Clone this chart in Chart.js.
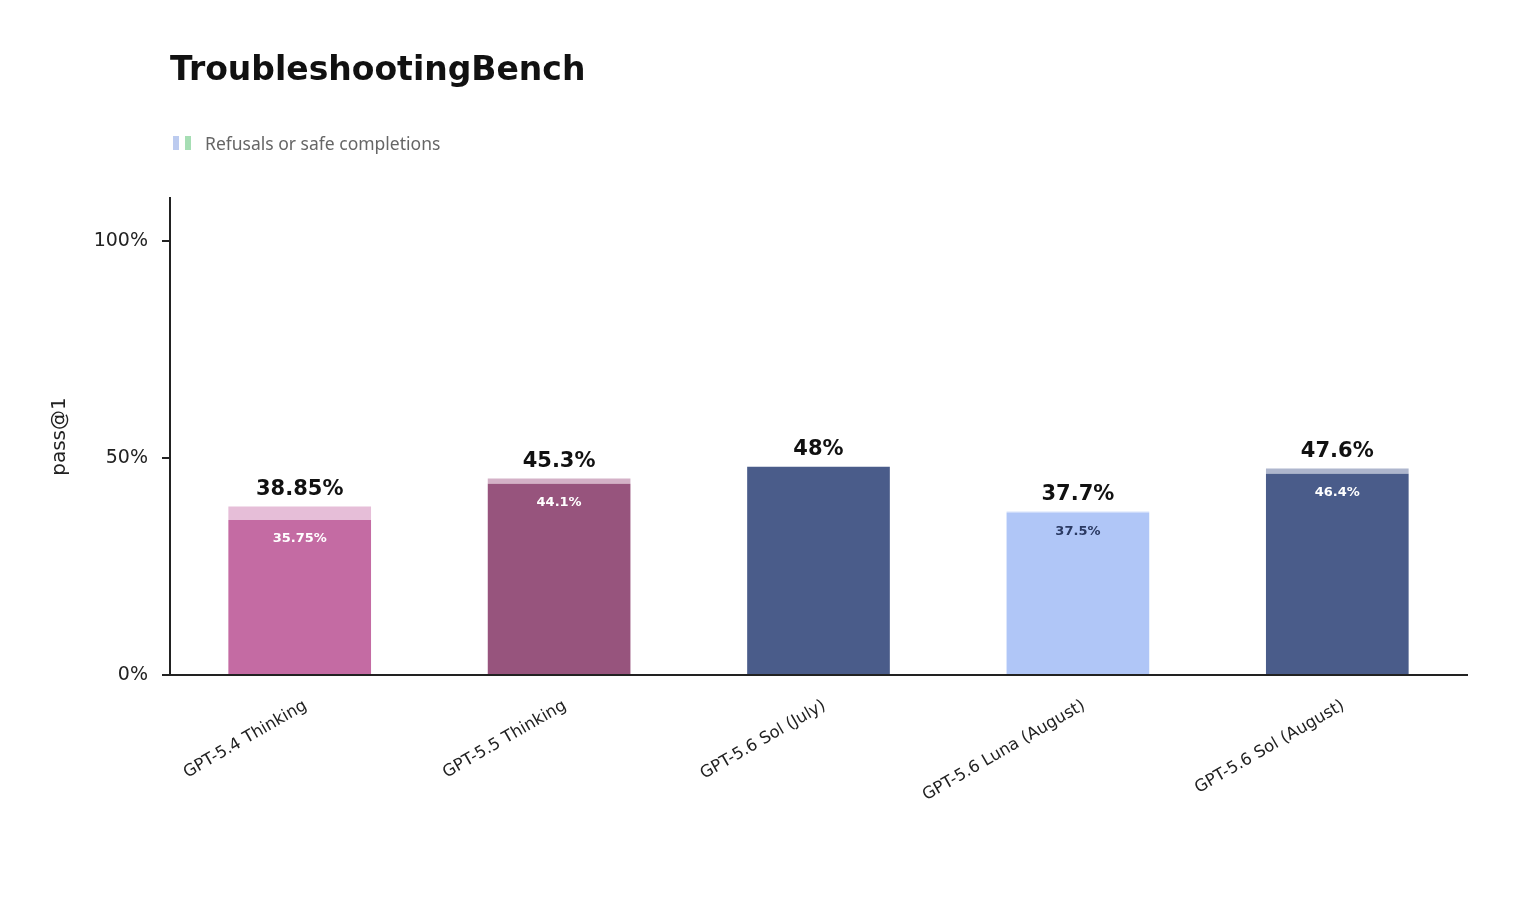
<!DOCTYPE html>
<html>
<head>
<meta charset="utf-8">
<script src="https://cdn.jsdelivr.net/npm/chart.js@4.4.1/dist/chart.umd.min.js"></script>
<style>
  html, body { margin: 0; padding: 0; background: #fff; }
  #wrap { position: relative; width: 1520px; height: 900px; }
  #title { position: absolute; left: 170px; top: 49px; font-family: "DejaVu Sans", sans-serif; font-weight: bold; font-size: 33px; color: #111; white-space: nowrap; }
  #legend { position: absolute; left: 173px; top: 132px; height: 22px; display: flex; align-items: center; font-family: "Noto Sans", sans-serif; font-size: 17.5px; color: #666; }
  .sw { display: inline-block; width: 6px; height: 14px; margin-right: 6px; }
  #legend span.txt { margin-left: 8px; }
  canvas { position: absolute; left: 0; top: 0; }
</style>
</head>
<body>
<div id="wrap">
  <canvas id="c" width="1520" height="900"></canvas>
  <div id="title">TroubleshootingBench</div>
  <div id="legend"><i class="sw" style="background:#BCCBEF"></i><i class="sw" style="background:#A6DEB4"></i><span class="txt">Refusals or safe completions</span></div>
</div>
<script>
const categories = ["GPT-5.4 Thinking", "GPT-5.5 Thinking", "GPT-5.6 Sol (July)", "GPT-5.6 Luna (August)", "GPT-5.6 Sol (August)"];
const baseValues = [35.75, 44.1, 48, 37.5, 46.4];
const totalValues = [38.85, 45.3, 48, 37.7, 47.6];
const baseLabels = ["35.75%", "44.1%", "", "37.5%", "46.4%"];
const totalLabels = ["38.85%", "45.3%", "48%", "37.7%", "47.6%"];
const yTicks = [0, 50, 100];
const yTickLabels = ["0%", "50%", "100%"];

const baseColors = ["#C46BA3", "#97547D", "#4A5C8A", "#B0C6F7", "#4A5C8A"];
const topColors = ["#E6BED8", "#D4B1C7", "#4A5C8A", "#D6E1FB", "#AEB6CD"];
const innerTextColors = ["#ffffff", "#ffffff", "#ffffff", "#2B3A63", "#ffffff"];

const refusalValues = totalValues.map((t, i) => +(t - baseValues[i]).toFixed(2));

const labelPlugin = {
  id: 'valueLabels',
  afterDatasetsDraw(chart) {
    const ctx = chart.ctx;
    const y = chart.scales.y;
    const meta = chart.getDatasetMeta(0);
    ctx.save();
    ctx.textAlign = 'center';
    meta.data.forEach((el, i) => {
      const x = el.x;
      const yt = y.getPixelForValue(totalValues[i]);
      ctx.font = 'bold 21px "DejaVu Sans"';
      ctx.fillStyle = '#111';
      ctx.textBaseline = 'alphabetic';
      ctx.fillText(totalLabels[i], x, yt - 12);
      if (baseLabels[i]) {
        const yb = y.getPixelForValue(baseValues[i]);
        ctx.font = 'bold 13px "DejaVu Sans"';
        ctx.fillStyle = innerTextColors[i];
        ctx.textBaseline = 'middle';
        ctx.fillText(baseLabels[i], x, yb + 19);
      }
    });
    ctx.restore();
  }
};

new Chart(document.getElementById('c'), {
  type: 'bar',
  data: {
    labels: categories,
    datasets: [
      { label: 'Base', data: baseValues, backgroundColor: baseColors, borderWidth: 0 },
      { label: 'Refusals or safe completions', data: refusalValues, backgroundColor: topColors, borderWidth: 0 }
    ]
  },
  options: {
    responsive: false,
    animation: false,
    devicePixelRatio: 1,
    layout: { padding: { left: 44, top: 198, right: 53, bottom: 0 } },
    datasets: { bar: { categoryPercentage: 1.0, barPercentage: 0.55 } },
    plugins: { legend: { display: false }, title: { display: false }, tooltip: { enabled: false } },
    scales: {
      x: {
        stacked: true,
        grid: { display: false, drawTicks: false },
        border: { display: true, color: '#222', width: 2 },
        ticks: { color: '#222', font: { family: 'DejaVu Sans', size: 16.5 }, maxRotation: 30, minRotation: 30, padding: 21, labelOffset: 6 },
        afterFit(s) { s.height = 225; }
      },
      y: {
        stacked: true,
        min: 0, max: 110,
        afterBuildTicks(s) { s.ticks = yTicks.map(v => ({ value: v })); },
        grid: { display: true, drawOnChartArea: false, drawTicks: true, tickLength: 8, color: '#222', lineWidth: 2 },
        border: { display: true, color: '#222', width: 2 },
        ticks: {
          color: '#222', font: { family: 'DejaVu Sans', size: 19 }, padding: 14,
          callback(v) { const i = yTicks.indexOf(v); return i >= 0 ? yTickLabels[i] : ''; }
        },
        title: { display: true, text: 'pass@1', color: '#222', font: { family: 'DejaVu Sans', size: 20 }, padding: 4 },
        afterFit(s) { s.width = 126; }
      }
    }
  },
  plugins: [labelPlugin]
});
</script>
</body>
</html>
